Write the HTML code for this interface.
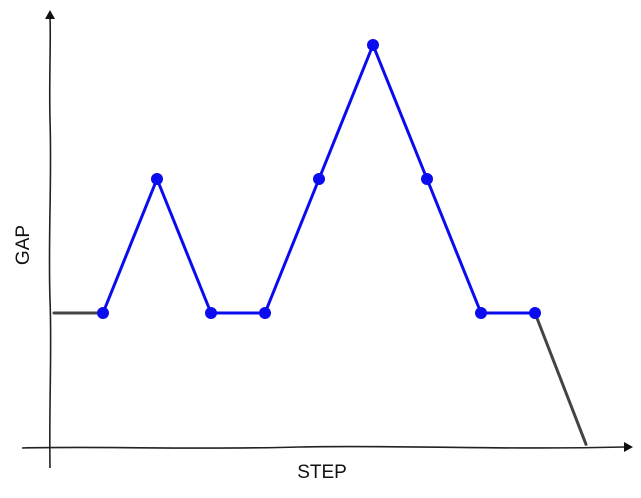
<!DOCTYPE html>
<html><head><meta charset="utf-8"><style>
html,body{margin:0;padding:0;background:#fff;}
svg{display:block;}
text{font-family:"Liberation Sans",sans-serif;font-size:19px;fill:#111;}
</style></head><body>
<svg id="chart" width="641" height="498" viewBox="0 0 641 498">
<path d="M50,468 C49,400 52,350 50,300 C48,240 52,180 50,120 C49,80 51,40 50,18" stroke="#222" stroke-width="1.6" fill="none"/>
<path d="M45,19 L50,10 L55,19 Z" fill="#111"/>
<path d="M22,448 C100,446 200,450 300,447 C400,445 500,450 625,447" stroke="#222" stroke-width="1.6" fill="none"/>
<path d="M624,442 L633,447 L624,452 Z" fill="#111"/>
<text transform="translate(29,245) rotate(-90)" text-anchor="middle">GAP</text>
<text x="322" y="478" text-anchor="middle">STEP</text>
<g id="plot"></g>
</svg>
<script>
const steps=[0,1,2,3,4,5,6,7,8,9,10];
const gap=[1,1,2,1,1,2,3,2,1,1,0.02];
const highlightStart=1, highlightEnd=9;
const xs=i=>49+54*i;
const ys=v=>447-134*v;
const g=document.getElementById('plot');
const NS='http://www.w3.org/2000/svg';
function line(a,b,color,name){
  let d='';
  for(let i=a;i<=b;i++){let x=xs(steps[i]),y=ys(gap[i]);if(i===0)x=54;if(i===steps.length-1)x-=3;d+=(i===a?'M':'L')+x+','+y;}
  const p=document.createElementNS(NS,'path');
  p.setAttribute('d',d);p.setAttribute('stroke',color);p.setAttribute('stroke-width','3');
  p.setAttribute('fill','none');p.setAttribute('stroke-linejoin','round');p.setAttribute('stroke-linecap','round');
  
  
  g.appendChild(p);
}
line(0,highlightStart,'#444','gray-line-start');
line(highlightEnd,steps.length-1,'#444','gray-line-end');
line(highlightStart,highlightEnd,'#0b0bf0','blue-line');
for(let i=highlightStart;i<=highlightEnd;i++){
  const c=document.createElementNS(NS,'circle');
  c.setAttribute('cx',xs(steps[i]));c.setAttribute('cy',ys(gap[i]));c.setAttribute('r','6');c.setAttribute('fill','#0b0bf0');
  
  
  g.appendChild(c);
}
</script>
</body></html>
